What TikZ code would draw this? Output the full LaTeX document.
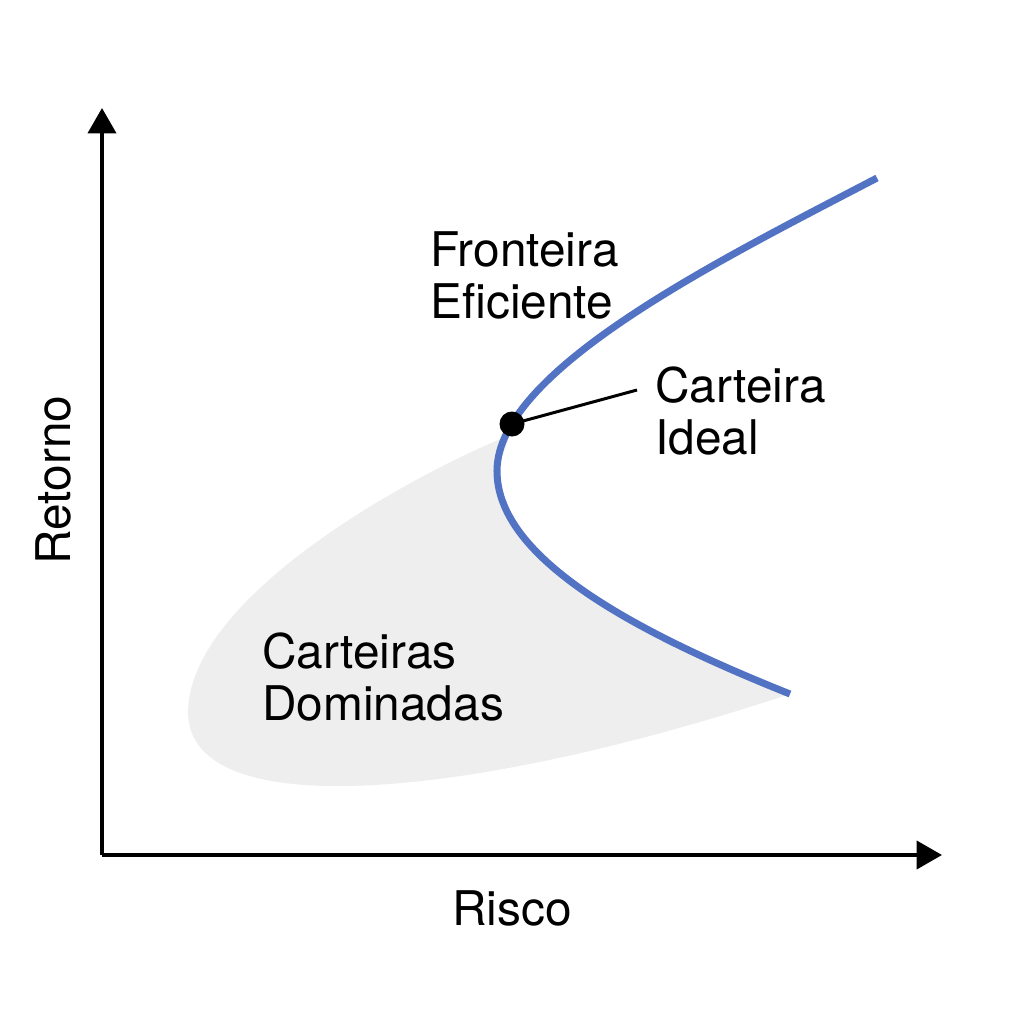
\documentclass[tikz,border=0pt]{standalone}
\usepackage{fontspec}
\setmainfont{TeX Gyre Heros}
\usetikzlibrary{arrows.meta}
\definecolor{frontblue}{HTML}{5272C4}
\definecolor{domgray}{HTML}{EEEEEE}

\begin{document}
\begin{tikzpicture}[x=0.02cm, y=-0.02cm,
    font=\fontsize{27.2}{30}\selectfont,
    axis/.style={line width=2.3pt, -{Triangle[length=14.5pt, width=16pt]}},
    frontier/.style={frontblue, line width=4pt},
    lbl/.style={inner sep=0pt, align=left}]
    \useasboundingbox (0,0) rectangle (1024,1024);
    % dominated region
    \fill[domgray] (510,435) .. controls (400,480) and (188,600) .. (188,713)
        .. controls (190,825) and (470,800) .. (790,694)
        .. controls (640,634) and (497,560) .. (497,471) -- cycle;
    % axes
    \coordinate (O) at (102,855);
    \coordinate (ytip) at (102,108);
    \coordinate (xtip) at (942,855);
    \draw[axis] (O) -- (ytip);
    \draw[axis] (O) -- (xtip);
    % efficient frontier
    \coordinate (top) at (877,178);
    \coordinate (vertex) at (497,471);
    \coordinate (bottom) at (790,694);
    \draw[frontier] (top) .. controls (720,260) and (497,370) .. (vertex)
        .. controls (497,560) and (640,634) .. (bottom);
    \node[circle, fill=black, inner sep=0pt, minimum size=0.5cm] (ideal) at (512,424) {};
    \coordinate (idealend) at (637,390);
    \draw[line width=1.7pt] (ideal.center) -- (idealend);
    % labels
    \node[lbl, anchor=north west] (fronteira) at (430,231) {Fronteira\\Eficiente};
    \node[lbl, anchor=north west] (carteira) at (655,366) {Carteira\\Ideal};
    \node[lbl, anchor=north west] (dominadas) at (262,632) {Carteiras\\Dominadas};
    \node[lbl, anchor=north] (risco) at (512,890) {Risco};
    \node[lbl, rotate=90] (retorno) at (53,480) {Retorno};
\end{tikzpicture}
\end{document}
